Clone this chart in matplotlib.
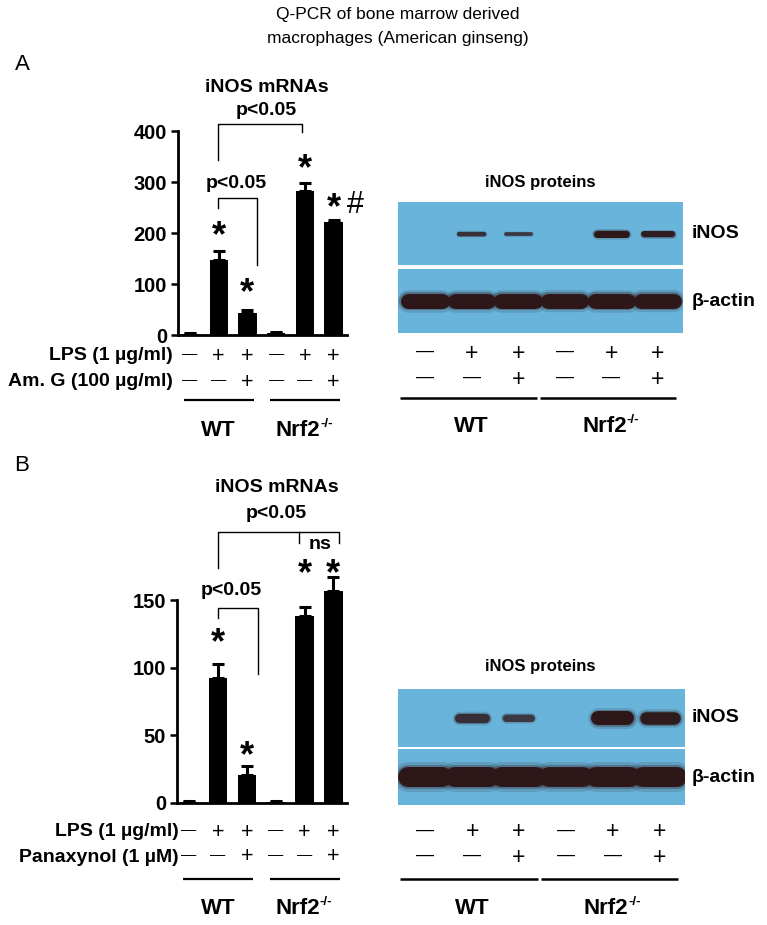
import matplotlib
matplotlib.use('Agg')
import matplotlib.pyplot as plt
from matplotlib.transforms import Affine2D, blended_transform_factory, offset_copy
import numpy as np

plt.rcParams['font.family'] = ['Liberation Sans', 'DejaVu Sans']

W, H = 767, 925

# ---------------- data ----------------
lps_signs = ['−', '+', '+', '−', '+', '+']
treat_signs = ['−', '−', '+', '−', '−', '+']
groups = ['WT', 'Nrf2']

a_values = [2, 147, 43, 4, 282, 221]
a_errors = [1, 18, 6, 2, 16, 5]
a_yticks = [0, 100, 200, 300, 400]
a_star_y = [None, 206, 94, None, 337, 261]

b_values = [1, 92, 21, 1, 138, 157]
b_errors = [0.5, 11, 6, 0.5, 7, 10]
b_yticks = [0, 50, 100, 150]
b_star_y = [None, 123, 39, None, 174, 174]

blotA_inos = [0.0, 0.45, 0.3, 0.0, 1.0, 0.8]
blotA_actin = [1.0, 1.0, 1.0, 0.95, 1.0, 0.95]
blotB_inos = [0.0, 0.5, 0.3, 0.0, 1.0, 0.85]
blotB_actin = [1.0, 1.0, 1.0, 0.95, 1.0, 1.0]

fig = plt.figure(figsize=(W / 100, H / 100), dpi=100)
PX = Affine2D().scale(1 / W, -1 / H).translate(0, 1) + fig.transFigure


def px_axes(x0, y0, x1, y1):
    return fig.add_axes([x0 / W, 1 - y1 / H, (x1 - x0) / W, (y1 - y0) / H])


BLOT_BG = '#69B4DB'
BAND = '#2e1719'


def sign(ax, x, y, s, tr, plus_fs, minus_fs):
    if s == '+':
        ax.text(x, y, '+', transform=tr, ha='center', va='center', fontsize=plus_fs,
                clip_on=False)
    else:
        ax.text(x, y, '—', transform=offset_copy(tr, fig=fig, y=1.5, units='points'),
                ha='center', va='center', fontsize=minus_fs, clip_on=False)


def group_label(ax, x, y, name, tr, fs):
    if name == 'WT':
        ax.text(x, y, name, transform=tr, ha='center', va='center', fontsize=fs,
                fontweight='bold')
    else:
        t = ax.text(x, y, name, transform=offset_copy(tr, fig=fig, x=-5, y=0, units='points'),
                    ha='center', va='center', fontsize=fs, fontweight='bold')
        ax.annotate('-/-', xy=(1.0, 0.78), xycoords=t, ha='left', va='center',
                    fontsize=fs * 0.6, fontweight='bold')


def bar_panel(box, vals, errs, yticks, ymax, star_y, label2, lab_right, rows_px):
    ax = px_axes(*box)
    x = np.arange(len(vals))
    ax.bar(x, vals, width=0.64, color='black', zorder=2, clip_on=False)
    _, caps, bars = ax.errorbar(x, vals, yerr=[np.zeros(len(errs)), errs], fmt='none',
                                ecolor='black', elinewidth=2.2, capsize=4.5, capthick=2.2,
                                zorder=1)
    for c in list(caps) + list(bars):
        c.set_clip_on(False)
    ax.set_xlim(-0.42, 5.47)
    ax.set_ylim(0, ymax)
    ax.set_yticks(yticks)
    ax.set_xticks([])
    for s in ['top', 'right']:
        ax.spines[s].set_visible(False)
    for s in ['left', 'bottom']:
        ax.spines[s].set_linewidth(2)
    ax.tick_params(axis='y', width=1.8, length=5, labelsize=14.5, pad=3)
    for t in ax.get_yticklabels():
        t.set_fontweight('bold')
    ax.patch.set_alpha(0)
    star_tr = offset_copy(ax.transData, fig=fig, x=0, y=-5, units='points')
    for xi, sy in zip(x, star_y):
        if sy is not None:
            ax.text(xi, sy, '*', transform=star_tr, ha='center', va='center', fontsize=26,
                    fontweight='bold')
    tr = blended_transform_factory(ax.transData, PX)
    r1, r2, rl, rg = rows_px
    for xi, s1, s2 in zip(x, lps_signs, treat_signs):
        sign(ax, xi, r1, s1, tr, 15.5, 11)
        sign(ax, xi, r2, s2, tr, 15.5, 11)
    ax.text(lab_right, r1, 'LPS (1 µg/ml)', transform=PX, ha='right', va='center',
            fontsize=14, fontweight='bold')
    ax.text(lab_right, r2, label2, transform=PX, ha='right', va='center',
            fontsize=14, fontweight='bold')
    for g, (i0, i1) in enumerate([(0, 2), (3, 5)]):
        ax.plot([i0 - 0.2, i1 + 0.23], [rl, rl], transform=tr, color='black', lw=1.6,
                clip_on=False, solid_capstyle='butt')
        group_label(ax, (i0 + i1) / 2, rg, groups[g], tr, 16)
    return ax


def bracket(ax, x0, x1, ytop, yl, yr, lw=1.0):
    ax.plot([x0, x0, x1, x1], [yl, ytop, ytop, yr], color='black', lw=lw, clip_on=False)


BFS = 14

# ---------------- Panel A bar chart ----------------
axA = bar_panel((178, 131, 347, 335), a_values, a_errors, a_yticks, 400, a_star_y,
                'Am. G (100 µg/ml)', 173, (356, 382, 400, 430))
bracket(axA, 0.98, 3.9, 414, 343, 398)
bracket(axA, 0.98, 2.35, 269, 249, 137)
axA.text(2.65, 441, 'p<0.05', ha='center', va='center', fontsize=BFS, fontweight='bold')
axA.text(2.68, 486, 'iNOS mRNAs', ha='center', va='center', fontsize=BFS, fontweight='bold')
axA.text(1.6, 298, 'p<0.05', ha='center', va='center', fontsize=BFS, fontweight='bold')
axA.text(5.75, 261, '#', transform=offset_copy(axA.transData, fig=fig, y=-2, units='points'),
         ha='center', va='center', fontsize=22)

# ---------------- Panel B bar chart ----------------
axB = bar_panel((177, 600, 347, 803), b_values, b_errors, b_yticks, 150, b_star_y,
                'Panaxynol (1 µM)', 179, (832, 857, 879, 908))
bracket(axB, 1.0, 5.2, 200, 174, 192)
axB.plot([3.8, 3.8], [200, 192], color='black', lw=1.0, clip_on=False)
axB.text(4.55, 191, 'ns', ha='center', va='center', fontsize=BFS, fontweight='bold')
axB.text(3.03, 214, 'p<0.05', ha='center', va='center', fontsize=BFS, fontweight='bold')
axB.text(3.05, 233, 'iNOS mRNAs', ha='center', va='center', fontsize=BFS, fontweight='bold')
bracket(axB, 1.0, 2.4, 144, 137, 95)
axB.text(1.46, 157, 'p<0.05', ha='center', va='center', fontsize=BFS, fontweight='bold')


# ---------------- Western blots ----------------
def blot_strip(box, intens, max_h_px, min_h_px, width):
    ax = px_axes(*box)
    ax.set_facecolor(BLOT_BG)
    ax.set_xlim(-0.58, 5.54)
    ax.set_ylim(0, 1)
    ax.set_xticks([])
    ax.set_yticks([])
    for s in ax.spines.values():
        s.set_visible(False)
    for i, v in enumerate(intens):
        if v <= 0:
            continue
        h = (min_h_px + (max_h_px - min_h_px) * v) * 0.72
        half = width / 2 * (0.8 + 0.2 * v)
        ax.plot([i - half, i + half], [0.5, 0.5], color=BAND, lw=h * 1.5,
                alpha=0.15, solid_capstyle='round')
        ax.plot([i - half, i + half], [0.5, 0.5], color=BAND, lw=h * 1.2,
                alpha=0.3, solid_capstyle='round')
        ax.plot([i - half, i + half], [0.5, 0.5], color=BAND, lw=h,
                alpha=min(1, 0.45 + 0.6 * v), solid_capstyle='round')
    return ax


def blot_panel(top, inos_box, actin_box, inos_int, actin_int, inos_h, actin_h, rows_px):
    fig.text(540 / W, 1 - top / H, 'iNOS proteins', ha='center', va='center',
             fontsize=12, fontweight='bold')
    ai = blot_strip(inos_box, inos_int, inos_h[1], inos_h[0], 0.62)
    blot_strip(actin_box, actin_int, actin_h[1], actin_h[0], 0.72)
    ycen_i = (inos_box[1] + inos_box[3]) / 2
    ycen_a = (actin_box[1] + actin_box[3]) / 2
    fig.text(692 / W, 1 - ycen_i / H, 'iNOS', ha='left', va='center', fontsize=14,
             fontweight='bold')
    fig.text(692 / W, 1 - ycen_a / H, 'β-actin', ha='left', va='center', fontsize=14,
             fontweight='bold')
    tr = blended_transform_factory(ai.transData, PX)
    r1, r2, rl, rg = rows_px
    for i, (s1, s2) in enumerate(zip(lps_signs, treat_signs)):
        sign(ai, i, r1, s1, tr, 16.5, 13)
        sign(ai, i, r2, s2, tr, 16.5, 13)
    for g, (i0, i1) in enumerate([(0, 2), (3, 5)]):
        ai.plot([i0 - 0.54, i1 + 0.4], [rl, rl], transform=tr, color='black', lw=1.8,
                clip_on=False, solid_capstyle='butt')
        group_label(ai, (i0 + i1) / 2, rg, groups[g], tr, 16)


blot_panel(183, (398, 202, 683, 265), (398, 269, 683, 333), blotA_inos, blotA_actin,
           (2, 7), (13, 15), (353, 379, 398, 426))
blot_panel(667, (398, 689, 685, 747), (398, 749, 685, 805), blotB_inos, blotB_actin,
           (4, 14), (17, 20), (832, 857, 879, 908))

# ---------------- titles ----------------
fig.text(398 / W, 1 - 15 / H, 'Q-PCR of bone marrow derived', ha='center', va='center',
         fontsize=12.5)
fig.text(398 / W, 1 - 38 / H, 'macrophages (American ginseng)', ha='center', va='center',
         fontsize=12.5)
fig.text(22 / W, 1 - 65 / H, 'A', ha='center', va='center', fontsize=16)
fig.text(22 / W, 1 - 466 / H, 'B', ha='center', va='center', fontsize=16)

fig.savefig('out.png', dpi=100)
